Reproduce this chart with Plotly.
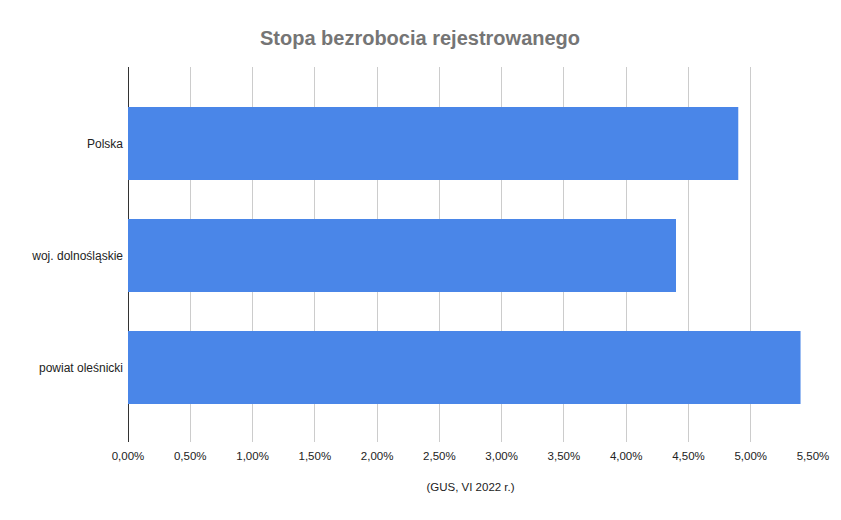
import plotly.graph_objects as go

categories = ["Polska", "woj. dolnośląskie", "powiat oleśnicki"]
values = [4.9, 4.4, 5.4]

fig = go.Figure(go.Bar(
    x=values, y=categories, orientation="h",
    marker=dict(color="#4a86e8", line=dict(width=0)),
    width=0.65,
))

# page body has an 8px margin, so the figure is sized / placed to compensate
fig.update_layout(
    width=833, height=512,
    margin=dict(l=120, r=26, t=59, b=78),
    paper_bgcolor="white", plot_bgcolor="white",
    separators=", ",
    font=dict(family="Liberation Sans, Arial, sans-serif", size=11.5, color="#222222"),
    title=dict(text="<b>Stopa bezrobocia rejestrowanego</b>", x=412 / 833, xanchor="center",
               y=1 - 30 / 512, yanchor="middle",
               font=dict(size=20, color="#757575")),
    showlegend=False,
)
fig.update_xaxes(
    range=[0, 5.5], dtick=0.5, tick0=0, tickformat=".2f", ticksuffix="%",
    showgrid=True, gridcolor="#cccccc", gridwidth=1,
    zeroline=True, zerolinecolor="#333333", zerolinewidth=1,
    showline=False, ticks="", ticklabelstandoff=5,
    tickfont=dict(size=11.5, color="#222222"),
    title=dict(text="(GUS, VI 2022 r.)", font=dict(size=11.5, color="#222222"), standoff=22),
)
fig.update_yaxes(
    range=[2.665, -0.683], showgrid=False, zeroline=False, showline=False,
    ticks="", ticklabelstandoff=4,
    tickfont=dict(size=12, color="#222222"),
)

fig.write_html("out.html")
